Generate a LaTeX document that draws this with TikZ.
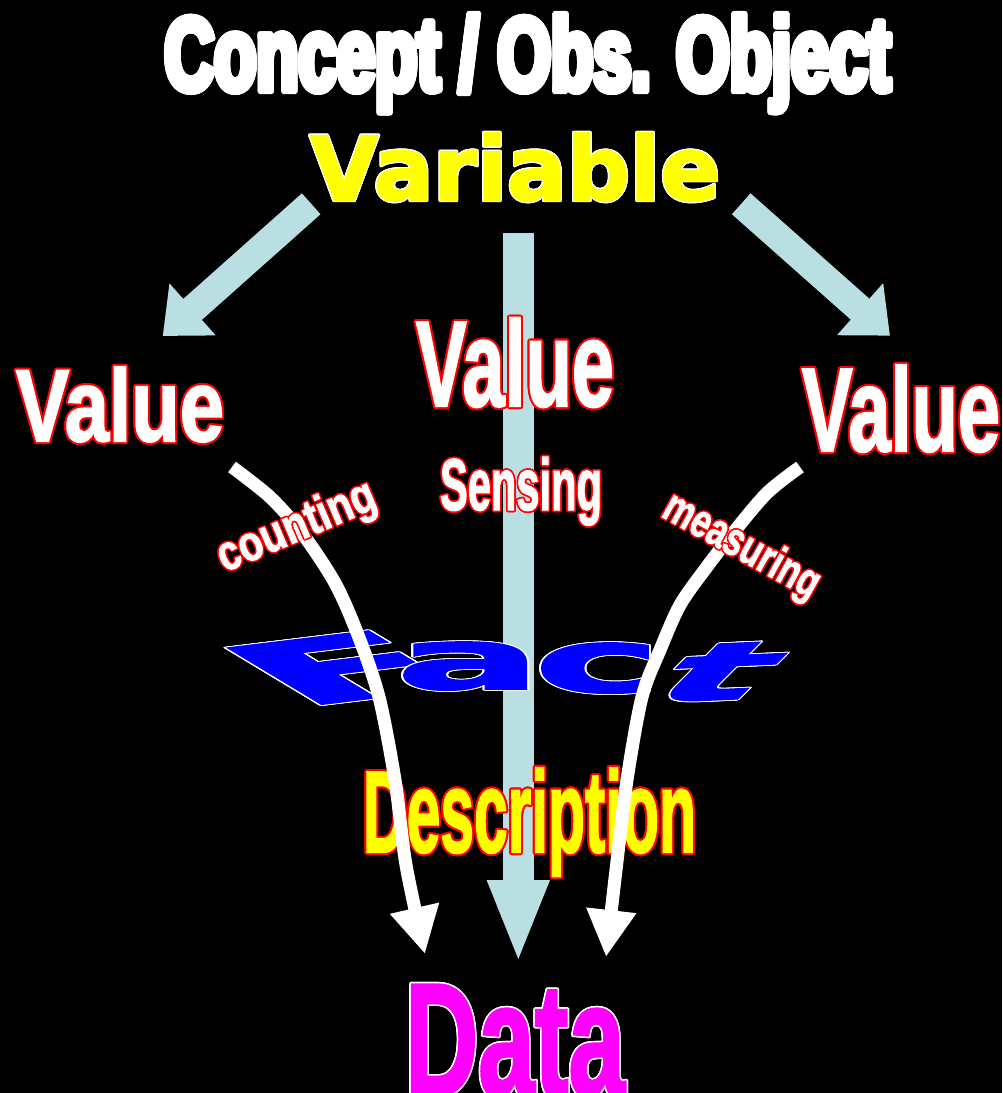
\documentclass[tikz,border=0pt]{standalone}
\usepackage{fontspec}
\usetikzlibrary{arrows.meta}
\newfontfamily\heavy{Liberation Sans Bold}[FakeBold=3.5]
\newfontfamily\nar{Liberation Sans Bold}[FakeBold=2]
\newfontfamily\wide{DejaVu Sans Bold}[FakeBold=2]
\definecolor{pblue}{RGB}{185,223,226}
\definecolor{fblue}{RGB}{0,0,255}
\definecolor{mag}{RGB}{255,0,255}
\definecolor{yel}{RGB}{255,255,0}
\newcommand\olt[4]{%
  \leavevmode
  \rlap{\foreach \oa in {0,22.5,...,337.5}{%
    \pgfmathsetlengthmacro\odx{#3*cos(\oa)}%
    \pgfmathsetlengthmacro\ody{#3*sin(\oa)}%
    \rlap{\hspace*{\odx}\raisebox{\ody}{\color{#1}#4}}}}%
  {\color{#2}#4}}
\begin{document}
\begin{tikzpicture}[x=1pt,y=1pt,
  txt/.style={inner sep=0pt, outer sep=0pt, anchor=base},
  rtxt/.style={inner sep=0pt, outer sep=0pt, anchor=center},
  ltr/.style={inner sep=0pt, outer sep=0pt, anchor=base west, transform shape},
  sidearrow/.style={draw=pblue, line width=28pt, -{Triangle[length=40pt,width=67pt]}},
  midarrow/.style={draw=pblue, line width=31pt, -{Triangle[length=84pt,width=56pt]}},
  warrow/.style={draw=white, line width=13pt, -{Triangle[length=47pt,width=47pt]}}]
\useasboundingbox (0,0) rectangle (1002,-1093);
\fill[black] (0,0) rectangle (1002,-1093);

% light blue arrows
\coordinate (bLs) at (311.2,-203.8);
\coordinate (bLe) at (162.7,-336);
\coordinate (bRs) at (741.2,-203.8);
\coordinate (bRe) at (890,-335.7);
\coordinate (bMs) at (518.3,-233);
\coordinate (bMe) at (518.3,-964);
\draw[sidearrow] (bLs) -- (bLe);
\draw[sidearrow] (bRs) -- (bRe);
\draw[midarrow] (bMs) -- (bMe);

% titles
\node[txt] (concept) at (527.5,-90) {\olt{white}{white}{2.2pt}{\resizebox{726pt}{75pt}{\heavy Concept / Obs. Object}}};
\node[txt] (variable) at (515,-200) {\olt{white}{yel}{1.2pt}{\resizebox{410pt}{67pt}{\wide Variable}}};

% values
\node[txt] (valL) at (120,-441) {\olt{red}{white}{2pt}{\resizebox{208pt}{74pt}{\nar Value}}};
\node[txt] (valM) at (515,-406) {\olt{red}{white}{2pt}{\resizebox{198pt}{88pt}{\nar Value}}};
\node[txt] (valR) at (901,-451) {\olt{red}{white}{2pt}{\resizebox{198pt}{86pt}{\nar Value}}};
\node[txt] (sensing) at (521,-510) {\olt{red}{white}{1.6pt}{\resizebox{162pt}{53pt}{\nar Sensing}}};

% Fact
\begin{scope}[cm={18.5,2.25,-9.3,5.6,(298,-707)}]
  \node[ltr] (factF) at (0,0) {\olt{white}{fblue}{0.12pt}{\resizebox{10pt}{10pt}{\wide F}}};
\end{scope}
\begin{scope}[cm={14.6,0,0,4.7,(396,-689)}]
  \node[ltr] (facta) at (0,0) {\olt{white}{fblue}{0.15pt}{\resizebox{10pt}{10pt}{\wide a}}};
\end{scope}
\begin{scope}[cm={12.7,0,0,4.9,(534,-692)}]
  \node[ltr] (factc) at (0,0) {\olt{white}{fblue}{0.15pt}{\resizebox{10pt}{10pt}{\wide c}}};
\end{scope}
\begin{scope}[cm={10.5,0.45,5.8,5.8,(640,-703)}]
  \node[ltr] (factt) at (0,0) {\olt{white}{fblue}{0.15pt}{\resizebox{10pt}{10pt}{\wide t}}};
\end{scope}

% Description
\node[txt] (desc) at (529.5,-852) {\olt{red}{yel}{2pt}{\resizebox{333pt}{84pt}{\nar Description}}};

% white curved arrows
\coordinate (wLs) at (232,-467);
\coordinate (wLe) at (425,-954);
\coordinate (wRs) at (800,-467);
\coordinate (wRe) at (606,-957);
\draw[warrow] plot[smooth, tension=0.5] coordinates {(wLs) (270,-497) (302,-533) (335,-583) (358,-635) (379,-697) (395,-780) (406,-865) (wLe)};
\draw[warrow] plot[smooth, tension=0.5] coordinates {(wRs) (767,-493) (733,-533) (706,-568) (680,-605) (660,-650) (642,-697) (627,-780) (616,-870) (wRe)};

% rotated labels
\node[rtxt, rotate=23] (counting) at (297,-528) {\olt{red}{white}{1.5pt}{\resizebox{168pt}{36pt}{\nar counting}}};
\node[rtxt, rotate=-29] (measuring) at (741,-547) {\olt{red}{white}{1.5pt}{\resizebox{172pt}{34pt}{\nar measuring}}};

% Data
\node[txt] (data) at (515,-1095) {\olt{white}{mag}{1.5pt}{\resizebox{220pt}{110pt}{\nar Data}}};
\end{tikzpicture}
\end{document}
